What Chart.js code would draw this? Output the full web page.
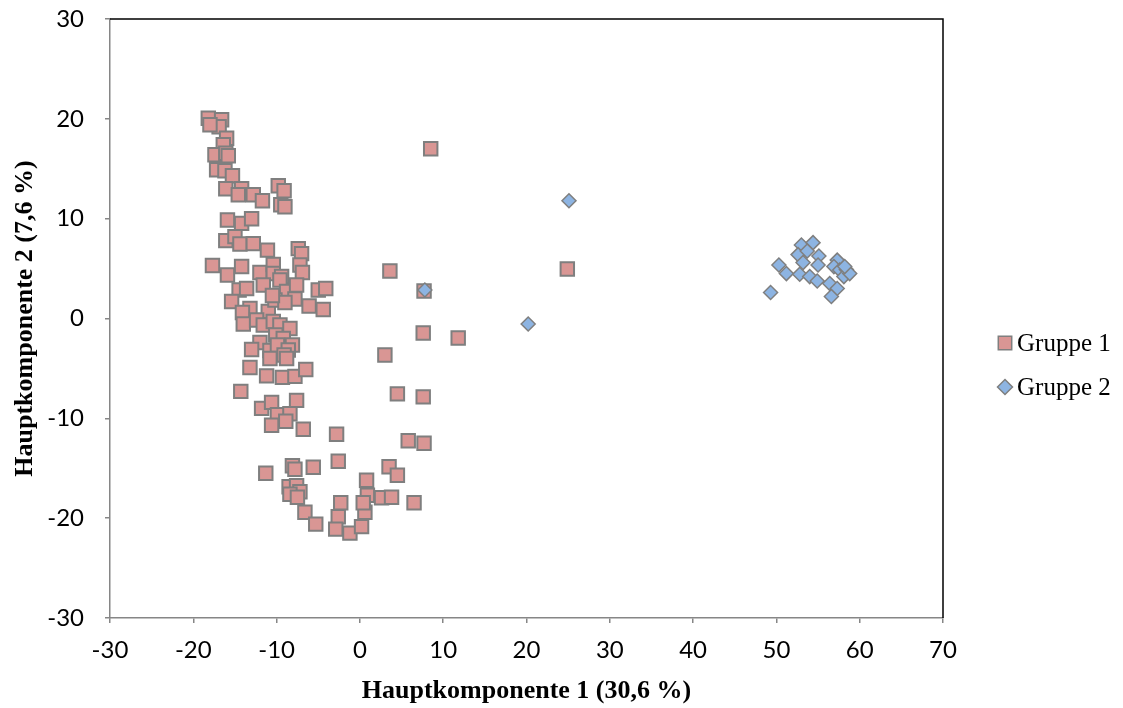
<!DOCTYPE html>
<html>
<head>
<meta charset="utf-8">
<script src="https://cdn.jsdelivr.net/npm/chart.js@4/dist/chart.umd.min.js"></script>
<style>
  html, body { margin: 0; padding: 0; background: #fff; }
  #wrap { width: 1123px; height: 708px; }
</style>
</head>
<body>
<div id="wrap"><canvas id="chart" width="1123" height="708"></canvas></div>
<script>
// Hauptkomponenten-Scores
const gruppe1 = [
  [-18.2, 20.05], [-16.6, 19.9], [-16.9, 19.2], [-18.0, 19.4], [-16.0, 18.05], [-16.4, 17.4],
  [-17.4, 16.4], [-16.1, 16.55], [-15.8, 16.3], [-17.2, 14.9], [-16.2, 14.8], [-15.3, 14.3],
  [-16.1, 13.0], [-14.2, 13.0], [-14.6, 12.4], [-12.8, 12.4], [-11.7, 11.8], [-9.8, 13.3],
  [-9.1, 12.8], [-9.5, 11.4], [-9.0, 11.2], [-15.9, 9.87], [-14.2, 9.53], [-13.0, 10.0],
  [-16.1, 7.8], [-15.0, 8.2], [-14.4, 7.46], [-12.8, 7.5], [-11.1, 6.85], [-7.4, 7.0],
  [-7.0, 6.5], [-17.7, 5.3], [-15.9, 4.36], [-14.2, 5.2], [-12.0, 4.6], [-10.4, 5.4],
  [-7.2, 5.36], [-6.9, 4.6], [-10.4, 4.5], [-9.4, 4.2],
  [-14.5, 2.85], [-13.6, 3.0], [-11.6, 3.35], [-9.6, 3.85], [-8.8, 2.7], [-7.8, 1.95],
  [-7.6, 3.35], [-5.0, 2.85], [-4.1, 3.0], [-6.1, 1.25], [-4.4, 0.9], [-15.4, 1.7],
  [-13.2, 1.0], [-14.1, 0.6], [-11.0, 0.7], [-10.2, 1.85], [-9.0, 1.6], [-10.5, 2.3],
  [-14.0, -0.55], [-12.4, -0.15], [-11.6, -0.65], [-10.4, -0.3], [-9.6, -0.65], [-8.4, -1.0],
  [-10.1, -1.65], [-9.2, -2.0], [-12.0, -2.4], [-13.0, -3.1], [-10.8, -3.2], [-9.9, -2.65],
  [-8.1, -2.65], [-8.6, -3.15], [-9.1, -3.66], [-10.8, -4.0], [-8.8, -4.0], [-13.2, -4.9],
  [-11.2, -5.75], [-9.3, -5.9], [-7.8, -5.8], [-6.5, -5.1], [-14.3, -7.3], [-11.8, -9.0],
  [-10.6, -8.4], [-9.9, -9.65], [-8.4, -9.55], [-7.6, -8.2], [-8.9, -10.3], [-10.6, -10.7],
  [-6.8, -11.1], [-2.8, -11.6],
  [5.8, -12.25], [7.7, -12.5], [-11.3, -15.5], [-8.1, -14.75], [-7.8, -15.1], [-5.6, -14.9],
  [-2.6, -14.3], [3.5, -14.85], [4.5, -15.7], [-8.5, -16.85], [-7.6, -16.75], [-7.2, -17.35],
  [-8.4, -17.6], [-7.5, -17.9], [0.8, -16.2], [0.9, -17.7], [2.6, -17.95], [3.8, -17.9],
  [6.5, -18.45], [-2.3, -18.45], [0.6, -19.4], [-6.6, -19.4], [-5.3, -20.6], [-2.6, -19.85],
  [-2.9, -21.1], [-1.2, -21.5], [0.2, -20.85], [0.4, -18.45],
  [8.5, 17.0], [3.6, 4.75], [24.9, 4.95], [7.7, 2.75], [7.6, -1.45], [11.8, -1.95],
  [3.0, -3.65], [4.5, -7.55], [7.6, -7.85]
]

const gruppe2 = [
  [49.3, 2.6], [50.3, 5.36], [51.2, 4.5], [53.0, 7.36], [54.4, 7.6], [52.6, 6.4],
  [53.7, 6.76], [53.2, 5.6], [55.1, 6.26], [55.0, 5.36], [52.8, 4.43], [54.0, 4.2],
  [54.9, 3.76], [56.4, 3.5], [57.3, 3.0], [56.6, 2.2], [57.3, 5.85], [56.9, 5.2],
  [57.6, 4.85], [58.4, 4.9], [58.1, 4.2], [58.8, 4.5], [58.2, 5.2],
  [7.8, 2.85], [20.2, -0.55], [25.1, 11.8]
]

const seriesNames = ["Gruppe 1", "Gruppe 2"]
const xTitle = "Hauptkomponente 1 (30,6 %)"
const yTitle = "Hauptkomponente 2 (7,6 %)"

function toPoints(arr) {
  return arr.map(p => ({ x: p[0], y: p[1] }))
}

// schwarzer Rahmen oben und rechts (wie Excel)
const framePlugin = {
  id: "frame",
  afterDatasetsDraw(chart) {
    const a = chart.chartArea
    const ctx = chart.ctx
    ctx.save()
    ctx.strokeStyle = "#000"
    ctx.lineWidth = 1.5
    ctx.beginPath()
    ctx.moveTo(a.left, a.top)
    ctx.lineTo(a.right, a.top)
    ctx.lineTo(a.right, a.bottom)
    ctx.stroke()
    ctx.restore()
  }
}

// Legende rechts neben dem Plot, selbst gezeichnet
const legendPlugin = {
  id: "legendRight",
  afterDraw(chart) {
    const ctx = chart.ctx
    const a = chart.chartArea
    ctx.save()
    ctx.font = "25px 'Liberation Serif'"
    ctx.fillStyle = "#000"
    ctx.textBaseline = "middle"
    chart.data.datasets.forEach((ds, i) => {
      const y = a.top + 324 + i * 44
      const x = a.right + 62
      ctx.fillStyle = ds.backgroundColor
      ctx.strokeStyle = ds.borderColor
      ctx.lineWidth = 1.5
      Chart.helpers.drawPoint(ctx, {
        pointStyle: ds.pointStyle,
        radius: ds.pointStyle === "rect" ? 9.5 : 7.5,
        borderWidth: 1.5
      }, x, y)
      ctx.fillStyle = "#000"
      ctx.fillText(ds.label, x + 12, y + 1)
    })
    ctx.restore()
  }
}

const tickFont = { family: "Lato", size: 24 }
const titleFont = { family: "Liberation Serif", size: 26, weight: "bold" }

new Chart("chart", {
  type: "scatter",
  data: {
    datasets: [{
      label: seriesNames[0],
      data: toPoints(gruppe1),
      pointStyle: "rect",
      pointRadius: 9.5,
      pointHoverRadius: 9.5,
      backgroundColor: "#d99694",
      borderColor: "#7f7f7f",
      borderWidth: 2,
      order: 1
    }, {
      label: seriesNames[1],
      data: toPoints(gruppe2),
      pointStyle: "rectRot",
      pointRadius: 7,
      pointHoverRadius: 7,
      backgroundColor: "#8db4e2",
      borderColor: "#7f7f7f",
      borderWidth: 1.5,
      order: 0
    }]
  },
  options: {
    responsive: false,
    animation: false,
    layout: { padding: { top: 19, left: 0, right: 180, bottom: 0 } },
    plugins: {
      tooltip: { enabled: false },
      legend: { display: false }
    },
    scales: {
      x: {
        type: "linear",
        min: -30,
        max: 70,
        ticks: { stepSize: 10, color: "#000", font: tickFont, padding: 13 },
        grid: { display: true, drawOnChartArea: false, drawTicks: true, tickLength: 5, color: "#868686", lineWidth: 1.5 },
        border: { color: "#868686", width: 1.5 },
        title: { display: true, text: xTitle, color: "#000", font: titleFont, padding: { top: 0, bottom: 1 } },
        afterFit(scale) {
          scale.height = 90
          scale.paddingLeft = 0
          scale.paddingRight = 0
        }
      },
      y: {
        type: "linear",
        min: -30,
        max: 30,
        ticks: { stepSize: 10, color: "#000", font: tickFont, padding: 21 },
        grid: { display: true, drawOnChartArea: false, drawTicks: true, tickLength: 5, color: "#868686", lineWidth: 1.5 },
        border: { color: "#868686", width: 1.5 },
        title: { display: true, text: yTitle, color: "#000", font: titleFont, padding: { top: 10, bottom: 0 } },
        afterFit(scale) {
          scale.width = 110
          scale.paddingTop = 0
          scale.paddingBottom = 0
        }
      }
    }
  },
  plugins: [framePlugin, legendPlugin]
})
</script>
</body>
</html>
